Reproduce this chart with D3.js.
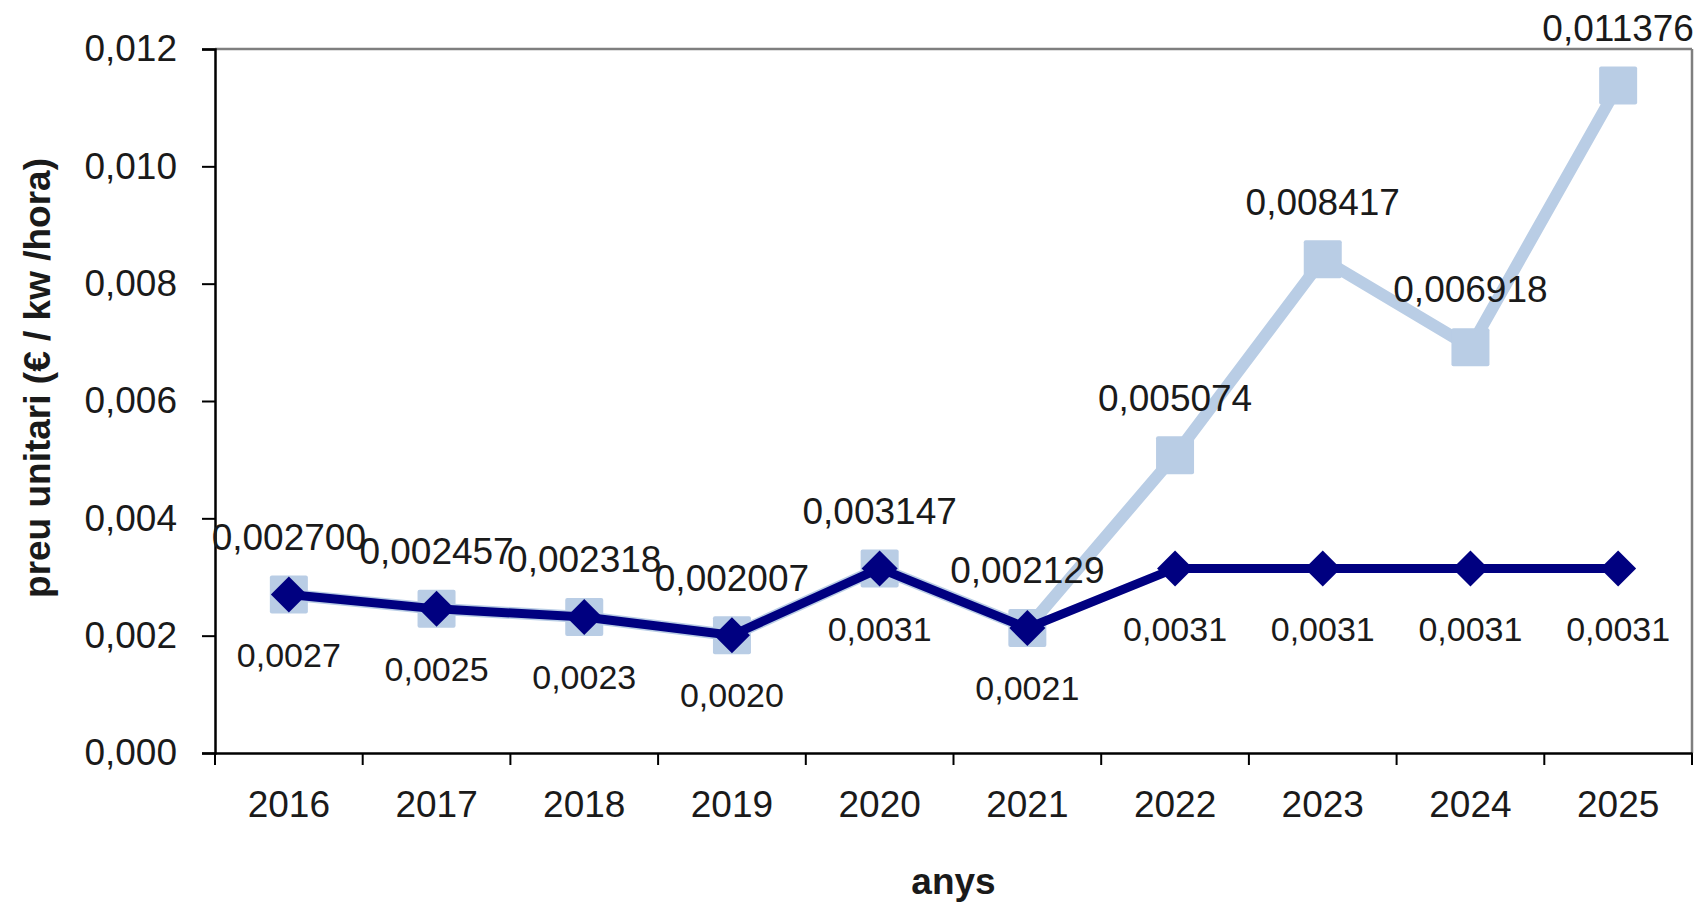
<!DOCTYPE html>
<html>
<head>
<meta charset="utf-8">
<script src="https://cdn.jsdelivr.net/npm/d3@7"></script>
<style>
  html, body { margin: 0; padding: 0; background: #ffffff; }
  svg { display: block; font-family: "Liberation Sans", Arial, sans-serif; }
</style>
</head>
<body>
<svg id="chart" width="1706" height="902"></svg>
<script>
// ---- data ----
const years = ["2016", "2017", "2018", "2019", "2020", "2021", "2022", "2023", "2024", "2025"];
const projectedPrice = [0.002700, 0.002457, 0.002318, 0.002007, 0.003147, 0.002129, 0.005074, 0.008417, 0.006918, 0.011376];
const basePrice = [0.002700, 0.002457, 0.002318, 0.002007, 0.003147, 0.002129, 0.003147, 0.003147, 0.003147, 0.003147];
const yTicks = [0, 0.002, 0.004, 0.006, 0.008, 0.010, 0.012];
const yTitle = "preu unitari (€ / kw /hora)";
const xTitle = "anys";

// ---- layout ----
const W = 1706, H = 902;
const plot = { left: 215, right: 1692, top: 49, bottom: 753 };
const lightBlue = "#b9cde5";
const navy = "#000080";
const textColor = "#1a1a1a";

const locale = d3.formatLocale({ decimal: ",", thousands: ".", grouping: [3], currency: ["", "€"] });
const fmtTick = locale.format(".3f");
const fmtProj = locale.format(".6f");
const fmtBase = locale.format(".4f");

const svg = d3.select("#chart");

const x = d3.scaleBand().domain(years).range([plot.left, plot.right]).padding(0);
const cx = d => x(d) + x.bandwidth() / 2;
const y = d3.scaleLinear().domain([0, 0.012]).range([plot.bottom, plot.top]);

// plot frame: top and right in grey
svg.append("line")
  .attr("x1", plot.left).attr("x2", plot.right)
  .attr("y1", plot.top).attr("y2", plot.top)
  .attr("stroke", "#7f7f7f").attr("stroke-width", 2.5);
svg.append("line")
  .attr("x1", plot.right).attr("x2", plot.right)
  .attr("y1", plot.top).attr("y2", plot.bottom)
  .attr("stroke", "#7f7f7f").attr("stroke-width", 2.5);

// y axis
const yAxis = svg.append("g")
  .attr("transform", `translate(${plot.left},0)`)
  .call(d3.axisLeft(y).tickValues(yTicks).tickFormat(fmtTick).tickSize(13).tickPadding(25));
yAxis.select(".domain").attr("stroke", "#000").attr("stroke-width", 2.5);
yAxis.selectAll(".tick line").attr("stroke", "#000").attr("stroke-width", 2);
yAxis.selectAll(".tick text")
  .attr("font-family", "'Liberation Sans', Arial, sans-serif")
  .attr("font-size", 37).attr("fill", textColor);

// x axis: labels at band centres, ticks at band boundaries
const xAxis = svg.append("g")
  .attr("transform", `translate(0,${plot.bottom})`)
  .call(d3.axisBottom(x).tickSize(0).tickPadding(38));
xAxis.select(".domain").attr("stroke", "#000").attr("stroke-width", 2.5);
xAxis.selectAll(".tick text")
  .attr("font-family", "'Liberation Sans', Arial, sans-serif")
  .attr("font-size", 37).attr("fill", textColor);
const boundaries = years.map(d => x(d)).concat([x.range()[1]]);
xAxis.selectAll(".xb")
  .data(boundaries)
  .enter().append("line")
  .attr("class", "xb")
  .attr("x1", d => d).attr("x2", d => d)
  .attr("y1", 0).attr("y2", 12)
  .attr("stroke", "#000").attr("stroke-width", 2);

// axis titles
svg.append("text")
  .attr("transform", `translate(50,378) rotate(-90)`)
  .attr("text-anchor", "middle")
  .attr("font-weight", "bold").attr("font-size", 37).attr("fill", textColor)
  .text(yTitle);
svg.append("text")
  .attr("x", (plot.left + plot.right) / 2).attr("y", 894)
  .attr("text-anchor", "middle")
  .attr("font-weight", "bold").attr("font-size", 37).attr("fill", textColor)
  .text(xTitle);

// projected series (light blue)
const lineGen = d3.line().x((d, i) => cx(years[i])).y(d => y(d));
svg.append("path")
  .datum(projectedPrice)
  .attr("d", lineGen)
  .attr("fill", "none").attr("stroke", lightBlue)
  .attr("stroke-width", 12).attr("stroke-linejoin", "miter");
svg.selectAll(".sq")
  .data(projectedPrice)
  .enter().append("rect")
  .attr("class", "sq")
  .attr("x", (d, i) => cx(years[i]) - 19)
  .attr("y", d => y(d) - 19)
  .attr("width", 38).attr("height", 38)
  .attr("rx", 2)
  .attr("fill", lightBlue);

// base series (navy)
svg.append("path")
  .datum(basePrice)
  .attr("d", lineGen)
  .attr("fill", "none").attr("stroke", navy)
  .attr("stroke-width", 9).attr("stroke-linejoin", "round");
const diamond = d3.symbol().type(d3.symbolDiamond2);
svg.selectAll(".dm")
  .data(basePrice)
  .enter().append("path")
  .attr("class", "dm")
  .attr("transform", (d, i) => `translate(${cx(years[i])},${y(d)})`)
  .attr("d", "M0,-18L18,0L0,18L-18,0Z")
  .attr("fill", navy);

// labels
svg.selectAll(".lp")
  .data(projectedPrice)
  .enter().append("text")
  .attr("class", "lp")
  .attr("x", (d, i) => cx(years[i]))
  .attr("y", d => y(d) - 58)
  .attr("dy", "0.36em")
  .attr("text-anchor", "middle")
  .attr("font-size", 37).attr("fill", textColor)
  .text(d => fmtProj(d));

svg.selectAll(".lb")
  .data(basePrice)
  .enter().append("text")
  .attr("class", "lb")
  .attr("x", (d, i) => cx(years[i]))
  .attr("y", d => y(d) + 60)
  .attr("dy", "0.36em")
  .attr("text-anchor", "middle")
  .attr("font-size", 34).attr("fill", textColor)
  .text(d => fmtBase(d));
</script>
</body>
</html>
